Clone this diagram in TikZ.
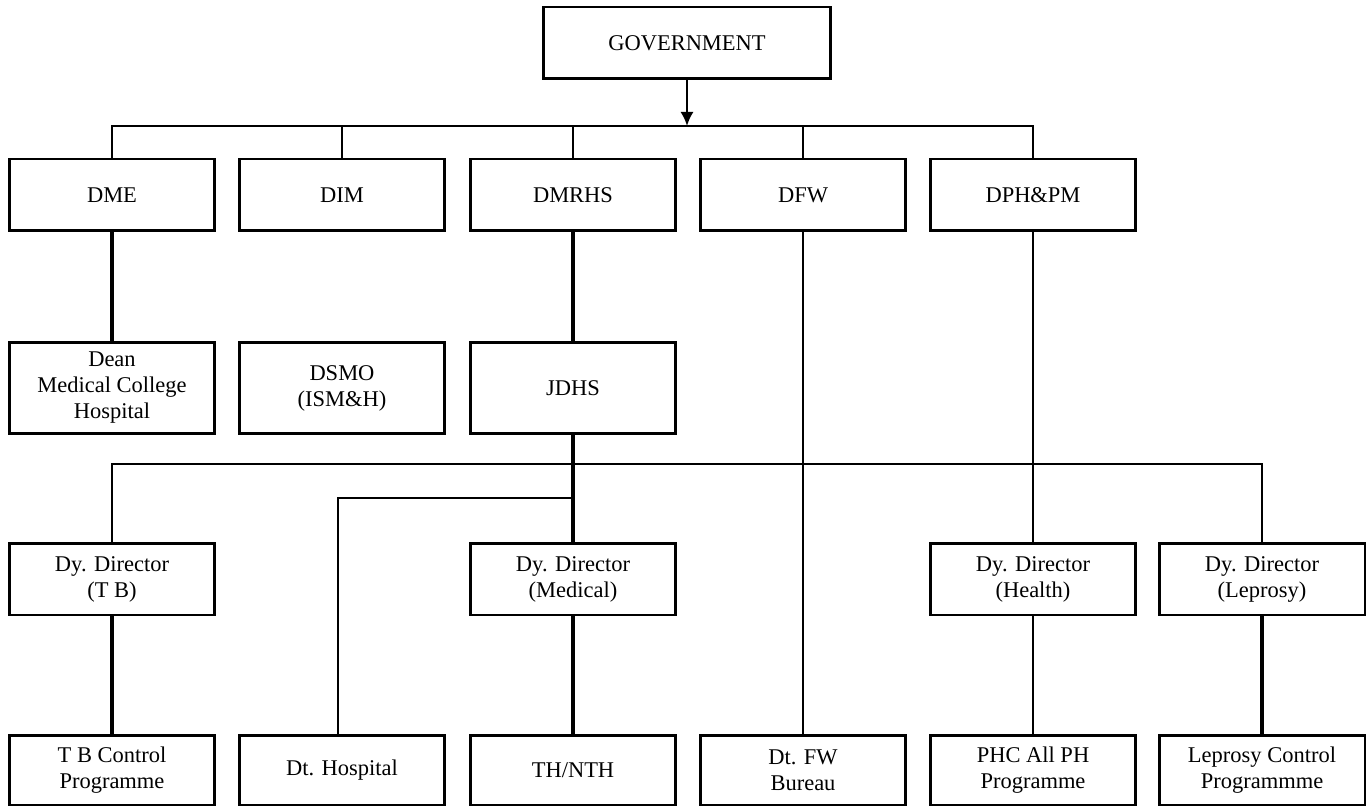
\documentclass[tikz,border=0pt]{standalone}
\usepackage{fontspec}
\setmainfont{Liberation Serif}
\usetikzlibrary{arrows.meta}
\tikzstyle{every node}=[draw=black,line width=1.7pt,align=center,inner sep=0pt,
  minimum width=4.12cm,font=\fontsize{12.8}{14.8}\selectfont]
\tikzstyle{head}=[minimum height=1.44cm]
\tikzstyle{mid}=[minimum height=1.84cm]
\tikzstyle{foot}=[minimum height=1.40cm]
\tikzstyle{link}=[line width=1.3pt]
\tikzstyle{heavy}=[line width=2pt]

\begin{document}
\begin{tikzpicture}[x=0.02cm,y=-0.02cm]
  \useasboundingbox (0,0) rectangle (1366,807);
  \node[head,minimum width=5.74cm] (gov) at (687,43) {GOVERNMENT};

  \node[head] (dme) at (112,195) {DME};
  \node[head] (dim) at (342,195) {DIM};
  \node[head] (dmrhs) at (573,195) {DMRHS};
  \node[head] (dfw) at (803,195) {DFW};
  \node[head] (dph) at (1033,195) {DPH\&PM};

  \node[mid] (dean) at (112,388) {Dean\\Medical College\\Hospital};
  \node[mid] (dsmo) at (342,388) {DSMO\\(ISM\&H)};
  \node[mid] (jdhs) at (573,388) {JDHS};

  \node[head] (dytb) at (112,579) {Dy. Director\\(T B)};
  \node[head] (dymed) at (573,579) {Dy. Director\\(Medical)};
  \node[head] (dyhealth) at (1033,579) {Dy. Director\\(Health)};
  \node[head] (dylep) at (1262,579) {Dy. Director\\(Leprosy)};

  \node[foot] (tbcp) at (112,770) {T B Control\\Programme};
  \node[foot] (dthosp) at (342,770) {Dt. Hospital};
  \node[foot] (thnth) at (573,770) {TH/NTH};
  \node[foot] (dtfw) at (803,770) {Dt. FW\\Bureau};
  \node[foot] (phc) at (1033,770) {PHC All PH\\Programme};
  \node[foot] (lepcp) at (1262,770) {Leprosy Control\\Programmme};

  \coordinate (bus1) at (687,126);
  \coordinate (bus2) at (573,464);
  \coordinate (bus3) at (573,498);
  \coordinate (hosp) at (338,735);

  \draw[link,-{Latex[length=8pt,width=7.5pt]}] (gov.south) -- (bus1);
  \draw[link] (dme.north) |- (bus1) -| (dph.north);
  \foreach \n in {dim,dmrhs,dfw}
    \draw[link] (\n.north) -- (\n.north |- bus1);

  \draw[heavy] (dme.south) -- (dean.north);
  \draw[heavy] (dmrhs.south) -- (jdhs.north);
  \draw[link] (dfw.south) -- (dtfw.north);
  \draw[link] (dph.south) -- (dyhealth.north);

  \draw[link] (dytb.north) |- (bus2) -| (dylep.north);
  \draw[heavy] (jdhs.south) -- (dymed.north);
  \draw[link] (hosp) |- (bus3);

  \draw[heavy] (dytb.south) -- (tbcp.north);
  \draw[heavy] (dymed.south) -- (thnth.north);
  \draw[link] (dyhealth.south) -- (phc.north);
  \draw[heavy] (dylep.south) -- (lepcp.north);
\end{tikzpicture}
\end{document}
